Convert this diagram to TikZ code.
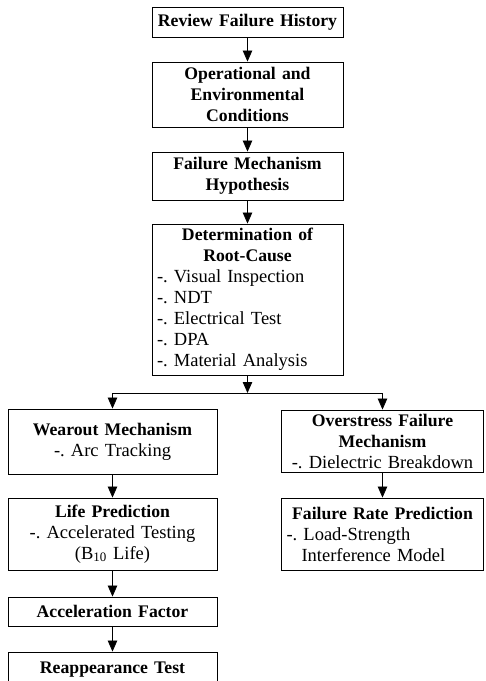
\documentclass[tikz,border=0pt]{standalone}
\usepackage{fontspec}
\setmainfont{Liberation Serif}
\usetikzlibrary{arrows.meta}
\frenchspacing
\newcommand\ttl[1]{{\fontsize{17.7}{21}\selectfont\bfseries #1}}

\begin{document}
\begin{tikzpicture}[x=1pt,y=-1pt,
	every node/.style={font=\fontsize{18.5}{21}\selectfont},
	blk/.style={draw, line width=0.9pt, text width=#1, inner xsep=5pt, inner ysep=0pt, align=center},
	blk/.default=181,
	lst/.style={align=left},
	arr/.style={-{Triangle[length=11pt,width=9.5pt]}, line width=0.8pt}]
	\useasboundingbox (0,0) rectangle (486,681);
	% main column
	\node[blk, minimum height=30] (rev) at (247.5,22) {\ttl{Review Failure History}};
	\node[blk, minimum height=65] (cond) at (247.5,94.5) {\ttl{Operational and}\\ \ttl{Environmental}\\ \ttl{Conditions}};
	\node[blk, minimum height=48] (hyp) at (247.5,176) {\ttl{Failure Mechanism}\\ \ttl{Hypothesis}};
	\node[blk, lst, minimum height=151] (root) at (247.5,299.5) {{\centering\ttl{Determination of}\\ \ttl{Root-Cause}\par}
		-. Visual Inspection\\ -. NDT\\ -. Electrical Test\\ -. DPA\\ -. Material Analysis};
	% left branch
	\node[blk=199, minimum height=65] (wear) at (112.5,441.5) {\ttl{Wearout Mechanism}\\ -. Arc Tracking};
	\node[blk=199, minimum height=72] (life) at (112.5,534) {\ttl{Life Prediction}\\ -. Accelerated Testing\\ (B\textsubscript{10} Life)};
	\node[blk=199, minimum height=29] (accf) at (112.5,611.5) {\ttl{Acceleration Factor}};
	\node[blk=199, minimum height=36] (reap) at (112.5,670) {\ttl{Reappearance Test}};
	% right branch
	\node[blk=192, minimum height=62] (over) at (382.5,441) {\ttl{Overstress Failure}\\ \ttl{Mechanism}\\ -. Dielectric Breakdown};
	\node[blk=192, lst, minimum height=72] (rate) at (382.5,534) {{\centering\ttl{Failure Rate Prediction}\par}
		-. Load-Strength\\ \hspace*{15pt}Interference Model};
	\coordinate (split) at (247.5,393);
	\draw[arr] (rev) -- (cond);
	\draw[arr] (cond) -- (hyp);
	\draw[arr] (hyp) -- (root);
	\draw[arr] (root) -- (split);
	\draw[arr] (split) -| (wear);
	\draw[arr] (split) -| (over);
	\draw[arr] (wear) -- (life);
	\draw[arr] (life) -- (accf);
	\draw[arr] (accf) -- (reap);
	\draw[arr] (over) -- (rate);
\end{tikzpicture}
\end{document}
